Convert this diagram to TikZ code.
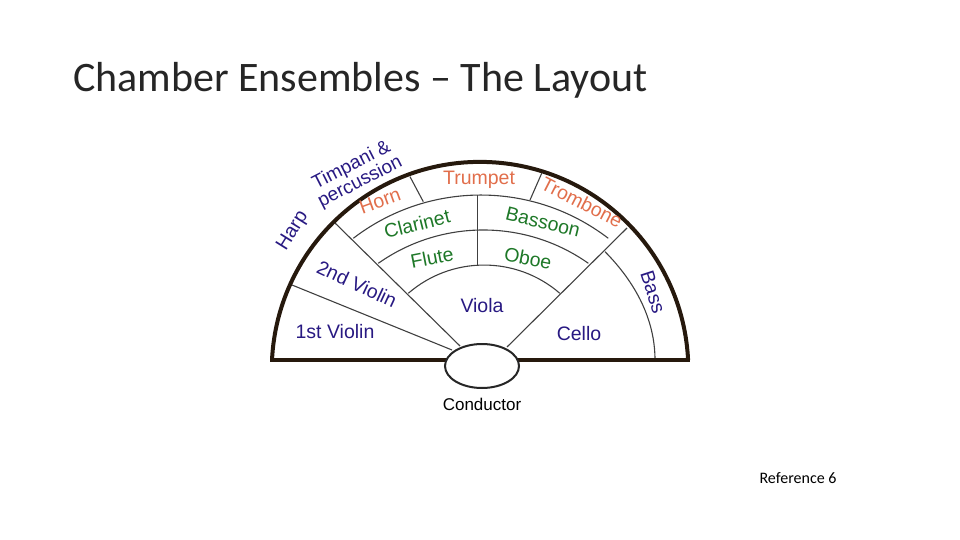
\documentclass[tikz,border=0pt]{standalone}
\usepackage{fontspec}
\usetikzlibrary{shapes.geometric}
\setmainfont{Liberation Sans}
\newfontfamily\titlefont{Carlito}
\begin{document}
\begin{tikzpicture}[x=1pt,y=-1pt,
  thin line/.style={draw=black!75,line width=1.1pt},
  thick line/.style={draw=black!80!brown,line width=4pt},
  lbl/.style={font=\fontsize{19.5}{20}\selectfont,inner sep=0pt,align=center},
  blu/.style={lbl,text={rgb,255:red,40;green,25;blue,130}},
  grn/.style={lbl,text={rgb,255:red,30;green,120;blue,40}},
  org/.style={lbl,text={rgb,255:red,225;green,110;blue,75}}]
\useasboundingbox (0,0) rectangle (960,540);
\node[anchor=west,font=\titlefont\fontsize{42}{44}\selectfont,text=black!85,inner sep=0pt] (title) at (73,80) {Chamber Ensembles \textendash{} The Layout};
\node[font=\titlefont\fontsize{16}{17}\selectfont] (ref) at (798,478) {Reference 6};
% inner lines
\coordinate (a1) at (292,285); \coordinate (b1) at (452,350);
\coordinate (a2) at (335,223); \coordinate (b2) at (460,346);
\coordinate (a3) at (627,228); \coordinate (b3) at (507,347);
\draw[thin line] (a1) -- (b1);
\draw[thin line] (a2) -- (b2);
\draw[thin line] (a3) -- (b3);
\draw[thin line] (353.3,238.3) arc[start angle=-127.5,end angle=-52.5,radius=209.4];
\draw[thin line] (378.3,263.3) arc[start angle=-125.2,end angle=-54.8,radius=182.2];
\draw[thin line] (408.3,293.3) arc[start angle=-130.9,end angle=-49.1,radius=115.7];
\coordinate (v1) at (477.3,195); \coordinate (v2) at (477.3,265);
\draw[thin line] (v1) -- (v2);
\coordinate (d1) at (410,176.7); \coordinate (d2) at (423.3,201.7);
\coordinate (e1) at (541.7,173.3); \coordinate (e2) at (530,200);
\draw[thin line] (d1) -- (d2);
\draw[thin line] (e1) -- (e2);
\coordinate (ba1) at (605,251.7); \coordinate (ba2) at (655,360);
\draw[thin line] (ba1) .. controls (636,283) and (655,320) .. (ba2);
% outer
\draw[thick line] (272,360) arc[start angle=-177.2,end angle=-2.8,radius=208.3];
\draw[thick line] (270,360) -- (690,360);
\node[draw=black!85,line width=2pt,fill=white,ellipse,minimum width=74pt,minimum height=44pt,inner sep=0pt] (cond) at (482,366) {};
\node[lbl,font=\fontsize{17}{18}\selectfont] (condl) at (482,404) {Conductor};
% labels
\node[blu,rotate=58] (harp) at (293,231) {Harp};
\node[blu,rotate=27,font=\fontsize{19}{17}\selectfont] (timp) at (356,174) {Timpani \&\\percussion};
\node[org] (trumpet) at (479,180) {Trumpet};
\node[org,rotate=-27] (trombone) at (582,202) {Trombone};
\node[org,rotate=20] (horn) at (380,201) {Horn};
\node[grn,rotate=14] (clar) at (417,224) {Clarinet};
\node[grn,rotate=-14] (bass) at (543,222) {Bassoon};
\node[grn,rotate=11] (flute) at (432,258) {Flute};
\node[grn,rotate=-11] (oboe) at (528,258) {Oboe};
\node[blu,rotate=-25] (v2l) at (357,284) {2nd Violin};
\node[blu] (viola) at (482,306) {Viola};
\node[blu] (v1l) at (335,332) {1st Violin};
\node[blu] (cello) at (579,334) {Cello};
\node[blu,rotate=-72] (bassl) at (653,292) {Bass};
\end{tikzpicture}
\end{document}
